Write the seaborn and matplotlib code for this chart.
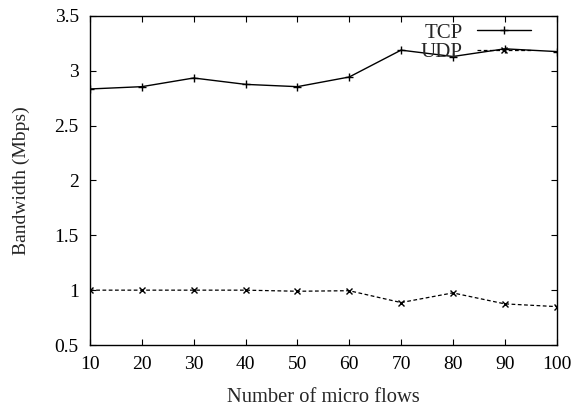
import matplotlib
matplotlib.use("Agg")
import matplotlib.pyplot as plt
import seaborn as sns
import pandas as pd

flows = [10, 20, 30, 40, 50, 60, 70, 80, 90, 100]
tcp = [2.834, 2.855, 2.934, 2.876, 2.855, 2.943, 3.188, 3.13, 3.2, 3.175]
udp = [1.0, 1.0, 1.0, 1.0, 0.99, 0.995, 0.887, 0.975, 0.875, 0.85]
xticks = [10, 20, 30, 40, 50, 60, 70, 80, 90, 100]
yticks = [0.5, 1, 1.5, 2, 2.5, 3, 3.5]
ytick_labels = ["0.5", "1", "1.5", "2", "2.5", "3", "3.5"]

sns.set_theme(style="ticks")
plt.rcParams['font.family'] = ['Liberation Serif', 'DejaVu Serif']

df = pd.DataFrame({"flows": flows, "TCP": tcp, "UDP": udp})

fig = plt.figure(figsize=(5.72, 4.08), dpi=100)
ax = fig.add_axes([0.1573, 0.1544, 0.8157, 0.8066])

sns.lineplot(data=df, x="flows", y="TCP", ax=ax, color="black", linewidth=1.0,
             marker="+", markersize=6, markeredgewidth=1.0,
             markeredgecolor="black", label="TCP")
sns.lineplot(data=df, x="flows", y="UDP", ax=ax, color="black", linewidth=0.9,
             linestyle=(0, (3, 2)), marker="x", markersize=4.5, markeredgewidth=1.0,
             markeredgecolor="black", label="UDP")

ax.set_xlim(10, 100)
ax.set_ylim(0.5, 3.5)
ax.set_xticks(xticks)
ax.set_xticklabels([str(v) for v in xticks])
ax.set_yticks(yticks)
ax.set_yticklabels(ytick_labels)
ax.tick_params(direction="in", length=4.5, width=0.8, top=True, right=True,
               labelsize=14, pad=8, colors="black")
for s in ax.spines.values():
    s.set_color("black")
    s.set_linewidth(1.0)

ax.set_xlabel("Number of micro flows", fontsize=14.8, labelpad=11)
ax.set_ylabel("Bandwidth (Mbps)", fontsize=14, labelpad=18)

leg = ax.legend(loc="upper right", frameon=False, fontsize=15,
                markerfirst=False, numpoints=1, handlelength=2.6,
                handletextpad=0.7, labelspacing=0.0, borderaxespad=0.1,
                bbox_to_anchor=(0.968, 1.01))
for t in leg.get_texts():
    t.set_ha("right")

fig.savefig("out.png", dpi=100)
